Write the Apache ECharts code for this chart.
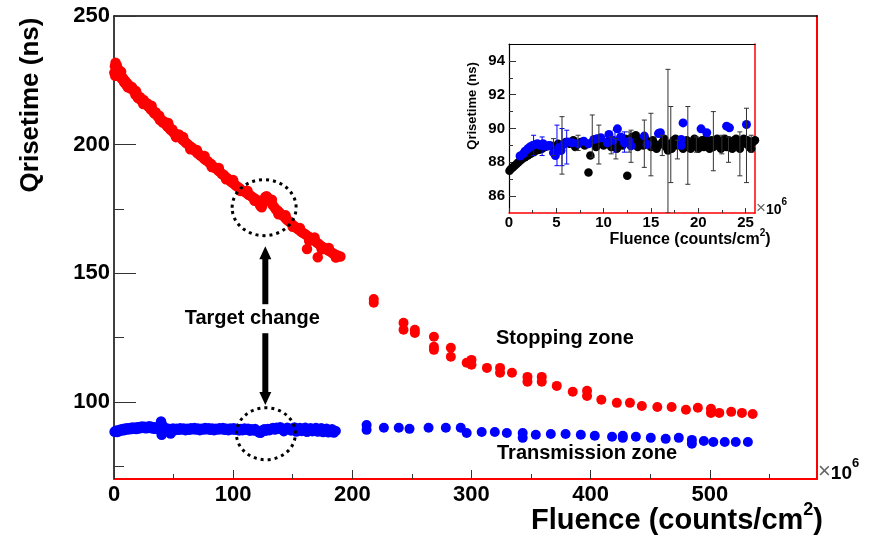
<!DOCTYPE html>
<html>
<head>
<meta charset="utf-8">
<script src="https://cdn.jsdelivr.net/npm/echarts@6/dist/echarts.min.js"></script>
<style>
  html, body { margin: 0; padding: 0; background: #fff; }
  #chart { width: 883px; height: 536px; }
</style>
</head>
<body>
<div id="chart"></div>
<script>
const FONT = '"Liberation Sans", Arial, Helvetica, sans-serif';

// Tick positions (fluence in units of 10^6 counts/cm^2, rise time in ns)
const mainXMajor = [0, 100, 200, 300, 400, 500];
const mainXMinor = [50, 150, 250, 350, 450, 550];
const mainYMajor = [100, 150, 200, 250];
const mainYMinor = [75, 125, 175, 225];
const insetXMajor = [0, 5, 10, 15, 20, 25];
const insetXMinor = [2.5, 7.5, 12.5, 17.5, 22.5];
const insetYMajor = [86, 88, 90, 92, 94];
const insetYMinor = [87, 89, 91, 93];

// Stopping zone, first target (dense scan)
const stoppingDense = [
  [0.3,228.0],[0.8,230.5],[1.3,231.8],[1.8,229.6],[2.4,230.8],[3.0,228.2],[3.6,227.5],[4.3,228.9],
  [5.0,226.4],[5.8,227.2],[6.6,225.6],[7.5,225.9],[8.4,224.2],[9.3,224.8],[10.2,223.4],[11.1,223.9],
  [12.0,222.6],[13.0,222.9],[14.0,221.8],[15.0,222.4],[16.0,221.5],[17.0,220.6],[18.0,219.4],[19.0,219.8],
  [20.0,218.2],[21.0,217.9],[22.0,218.4],[23.0,217.1],[24.0,216.8],[25.0,217.3],[26.0,216.2],[27.0,215.6],
  [28.0,216.0],[29.0,214.7],[30.0,214.9],[31.0,213.6],[32.0,213.9],[33.0,212.8],[34.0,212.1],[35.0,212.6],
  [36.0,211.4],[37.0,210.8],[38.0,211.2],[39.0,209.9],[40.0,209.5],[41.0,208.6],[42.0,209.0],[43.0,208.2],
  [44.0,207.5],[45.0,206.9],[46.0,207.3],[47.0,206.0],[48.0,205.6],[49.0,205.9],[50.0,204.7],[51.5,204.2],
  [53.0,203.6],[54.5,203.9],[56.0,202.8],[57.5,201.9],[59.0,201.4],[60.5,200.6],[62.0,200.1],[63.5,199.5],
  [65.0,199.0],[66.5,198.4],[68.0,197.6],[69.5,197.9],[71.0,196.5],[72.5,195.8],[74.0,195.4],[75.5,194.6],
  [77.0,194.0],[78.5,193.6],[80.0,192.9],[81.5,192.5],[83.0,191.6],[84.5,191.0],[86.0,190.7],[87.5,189.9],
  [89.0,189.4],[90.5,188.6],[92.0,188.3],[93.5,187.5],[95.0,186.9],[96.5,186.4],[98.0,185.6],[99.5,185.2],
  [101.0,184.6],[102.5,184.0],[104.0,183.5],[105.5,183.0],[107.0,182.4],[108.5,182.0],[110.0,181.6],[111.5,181.1],
  [113.0,180.5],[114.5,180.2],[116.0,179.6],[117.5,179.2],[119.0,178.8],[120.5,178.1],[122.0,177.0],[123.0,176.0],
  [124.0,175.6],[125.0,177.2],[126.0,178.8],[127.0,179.6],[128.0,179.9],[129.0,179.4],[130.0,178.6],[131.5,177.9],
  [133.0,176.6],[134.5,175.7],[136.0,174.8],[137.5,174.3],[139.0,173.5],[140.5,172.8],[142.0,172.4],[143.5,171.6],
  [145.0,170.9],[146.5,170.3],[148.0,169.8],[149.5,169.0],[151.0,168.4],[152.5,167.9],[154.0,167.3],[155.5,166.8],
  [157.0,166.2],[158.5,165.7],[160.0,165.3],[161.5,164.8],[162.0,159.4],[163.0,164.3],[164.5,163.9],[166.0,163.4],
  [167.5,163.0],[169.0,162.4],[170.5,161.8],[171.0,156.2],[172.0,161.3],[173.5,160.7],[175.0,160.2],[176.5,159.8],
  [178.0,159.4],[179.5,158.9],[181.0,158.6],[182.5,158.1],[184.0,157.7],[185.5,157.3],[187.0,157.0],[188.5,156.6],
  [190.0,156.5],
  [1.0,226.8],[6.0,228.3],[11.5,222.3],[18.5,220.8],[24.5,215.8],[31.5,215.1],[38.5,209.6],[45.5,208.4],
  [52.0,202.9],[58.0,203.0],[64.0,198.2],[70.0,196.6],[76.0,195.6],[82.0,191.3],[88.0,190.9],[94.0,186.5],
  [100.0,186.2],[106.0,182.0],[112.0,182.1],[118.0,178.2],[132.5,178.6],[138.0,172.9],[144.0,172.5],[150.0,168.1],
  [156.0,167.6],[163.8,162.6],[168.3,163.9],[174.3,159.3],[180.3,159.8],[186.2,156.1]
];

// Stopping zone, second target (sparse scan)
const stoppingSparse = [
  [218,140.0],[218,138.5],[243,130.7],[243,128.0],[252.5,128.0],[252.5,126.8],[268.5,125.3],[268.5,121.4],
  [268.5,120.2],[282.7,121.0],[282.7,117.5],[296,115.2],[300,116.3],[300,114.4],[313,113.2],[324,113.2],
  [324,111.3],[334,111.3],[347,109.7],[347,107.8],[359,109.7],[359,107.8],[371.6,106.2],[385,103.9],
  [397,104.3],[397,102.3],[409,100.8],[422,99.6],[433,99.6],[443,98.4],[456,98.0],[468,98.0],
  [480,96.9],[490,97.7],[501,97.3],[501,95.7],[508,95.7],[518,96.1],[527,95.7],[536,95.3]
];

// Transmission zone, first target (dense scan)
const transmissionDense = [
  [0.5,88.4],[1.5,88.8],[2.5,88.3],[3.5,89.0],[4.5,88.6],[5.5,89.2],[6.5,88.9],[7.5,89.4],[8.5,89.0],
  [9.5,89.6],[10.5,89.2],[11.5,89.7],[12.5,89.3],[13.5,89.8],[14.5,89.4],[15.5,90.0],[16.5,89.5],[17.5,89.9],
  [18.5,89.4],[19.5,90.1],[20.5,89.6],[21.5,90.2],[22.5,89.8],[23.5,90.4],[24.5,89.9],[25.5,90.3],[26.5,89.7],
  [27.5,90.2],[28.5,89.8],[29.5,90.5],[30.5,89.9],[31.5,90.3],[32.5,89.6],[33.5,90.1],[34.5,89.5],[35.5,90.0],
  [36.5,89.4],[37.5,89.9],[38.5,89.3],[39.5,92.4],[40.0,87.2],[40.5,91.0],[41.5,88.5],[42.5,89.8],[43.5,89.2],
  [44.5,89.6],[45.5,88.9],[46.5,89.4],[47.5,87.7],[48.5,89.1],[49.5,89.6],[51,89.0],[52.5,89.5],[54,89.1],
  [55.5,89.7],[57,89.2],[58.5,89.6],[60,89.0],[61.5,89.5],[63,89.1],[64.5,89.7],[66,89.3],[67.5,89.8],
  [69,89.2],[70.5,89.6],[72,89.0],[73.5,89.5],[75,89.2],[76.5,89.8],[78,89.3],[79.5,89.7],[81,89.1],
  [82.5,89.6],[84,89.0],[85.5,89.5],[87,89.2],[88.5,89.7],[90,89.3],[91.5,89.8],[93,89.1],[94.5,89.5],
  [96,89.0],[97.5,89.6],[99,89.2],[100.5,89.7],[102,89.1],[103.5,89.5],[105,88.9],[106.5,89.4],[108,89.0],
  [109.5,89.6],[111,89.1],[112.5,89.5],[114,88.8],[115.5,89.3],[117,88.9],[118.5,89.4],[120,88.7],[121.5,88.2],
  [123,88.0],[124.5,88.9],[126,89.3],[127.5,88.8],[129,89.4],[130.5,89.0],[132,89.5],[133.5,89.8],[135,89.2],
  [136.5,89.9],[138,89.5],[139.5,90.1],[141,89.6],[142.5,88.6],[144,89.3],[145.5,89.9],[147,89.4],[148.5,88.9],
  [150,89.6],[151.5,90.0],[153,88.5],[154.5,89.2],[156,89.8],[157.5,88.7],[159,89.4],[160.5,89.9],[162,88.4],
  [163.5,89.1],[165,89.7],[166.5,88.6],[168,89.3],[169.5,89.8],[171,88.5],[172.5,89.2],[174,89.7],[175.5,88.3],
  [177,89.0],[178.5,89.5],[180,88.2],[181.5,88.9],[183,89.3],[184.5,88.1],[186,88.7]
];

// Transmission zone, second target (sparse scan)
const transmissionSparse = [
  [212,91.0],[212,89.1],[226.5,89.9],[239,89.9],[248,89.5],[264,89.9],[278.5,89.9],[291,89.9],[296,87.9],
  [308.6,88.3],[319.6,88.3],[329.7,87.9],[343,87.9],[343,86.0],[354,87.2],[366.6,87.5],[379,87.5],[391.8,87.2],
  [403.5,86.8],[418,86.4],[427,86.8],[427,86.0],[438,86.4],[450.5,86.0],[463,85.6],[474,86.0],[485,85.2],
  [485,83.7],[495,84.8],[503,84.4],[512.6,84.4],[521.8,84.4],[532,84.4]
];

// Main panel error bars: [fluence, low, high]
const transmissionErrors = [[40.0, 86.4, 92.8], [47.5, 86.6, 89.2]];

// Inset: early fluence range, black and blue runs
const insetBlack = [
  [0.05,87.5],[0.2,87.6],[0.4,87.7],[0.6,87.8],[0.8,87.9],[1.0,88.0],[1.2,88.1],[1.4,88.2],[1.7,88.3],
  [2.0,88.4],[2.3,88.5],[2.6,88.6],[2.9,88.7],[3.2,88.75],[3.5,88.8],[3.8,88.9],[4.1,88.95],[4.4,89.0],
  [4.8,88.9],[5.2,89.1],[5.6,89.0],[6.0,89.2],[6.4,89.1],[6.8,89.3],[7.2,89.1],[7.6,89.2],[8.0,89.0],
  [8.4,87.4],[8.6,88.4],[8.8,89.2],[9.2,88.9],[9.6,89.1],[10.0,89.0],[10.4,89.2],[10.8,88.9],[11.2,89.1],
  [11.6,89.3],[12.0,89.0],[12.5,87.2],[12.6,89.2],[13.0,89.5],[13.4,89.6],[13.8,89.3],[14.2,89.0],[14.6,89.2],
  [15.0,88.9],[15.4,89.1],[15.8,89.0],[16.2,89.2],[16.6,88.9],[17.0,89.1],[17.4,89.3],[17.8,89.0],[18.2,89.2],
  [18.6,88.9],[19.0,89.1],[19.4,89.0],[19.8,89.2],[20.2,89.1],[20.6,88.9],[21.0,89.2],[21.4,89.3],[21.8,89.0],
  [22.2,89.1],[22.6,89.2],[23.0,88.9],[23.4,89.1],[23.8,89.3],[24.2,89.0],[24.6,89.2],[25.0,89.1],[25.4,88.9],
  [25.8,89.2],
  [13.2,89.1],[13.6,88.9],[14.4,89.4],[15.2,89.3],[15.6,88.8],[16.4,89.4],[16.8,88.7],[17.2,88.8],[17.6,89.4],
  [18.4,88.8],[18.8,89.3],[19.2,88.8],[19.6,89.4],[20.0,88.8],[20.4,89.3],[20.8,89.4],[21.2,88.8],[21.6,88.9],
  [22.0,89.4],[22.4,88.8],[22.8,89.4],[23.2,89.3],[23.6,88.8],[24.0,89.4],[24.4,88.8],[24.8,89.4],[25.2,89.3],
  [25.6,88.8],[26.0,89.3],[7.0,88.9],[9.4,89.3],[11.4,88.8],[12.3,89.4]
];
const insetBlue = [
  [1.17,88.37],[1.5,88.5],[1.7,88.66],[2.0,88.8],[2.2,88.9],[2.5,89.0],[2.77,89.06],[3.0,89.1],[3.3,89.0],
  [3.6,89.1],[3.83,88.95],[4.2,89.0],[4.7,88.57],[4.9,88.4],[5.25,88.86],[5.5,88.7],[5.78,89.06],[6.2,89.2],
  [6.67,89.16],[7.3,89.1],[7.9,89.25],[8.4,89.1],[8.97,89.35],[9.3,89.4],[9.7,89.45],[10.4,89.16],[10.56,89.65],
  [11.0,89.3],[11.46,89.98],[11.8,89.5],[12.2,89.16],[12.7,89.25],[12.9,88.97],[14.3,89.55],[14.6,89.06],
  [15.8,89.7],[16.0,89.75],[18.2,89.35],[18.2,89.0],[18.4,90.33],[20.3,89.98],[20.9,89.75],[23.0,90.14],
  [23.3,90.04],[25.1,90.24]
];
const insetBlackErrors = [
  [4.7,88.4,89.4],[5.6,87.3,90.7],[7.3,88.7,89.6],[8.8,88.3,90.8],[9.5,87.9,90.2],[10.8,88.5,89.5],
  [11.3,88.2,89.4],[12.7,88.6,89.8],[12.9,88.0,89.9],[14.3,87.7,90.5],[15.0,87.2,90.9],[16.2,88.4,89.6],
  [16.8,85.0,93.5],[17.1,86.8,91.3],[17.8,88.2,89.3],[18.9,86.7,91.3],[19.8,88.6,89.5],[21.6,87.5,91.0],
  [22.5,88.5,89.6],[23.2,88.0,89.5],[24.4,87.2,89.8],[25.1,86.8,91.2],[25.6,88.6,89.6]
];
const insetBlueErrors = [
  [2.6,88.4,89.6],[3.5,88.4,89.5],[5.07,87.8,90.2],[5.6,87.8,90.0],[6.1,87.9,89.9],[11.2,88.6,89.9],[12.2,88.6,89.8]
];

const RED = '#ff0000';
const BLUE = '#0000ff';

function valueAxis(gridIndex, position, min, max, ticks, tickLen, labelSize, labelMargin, lineStyle) {
  return {
    type: 'value', gridIndex: gridIndex, position: position, min: min, max: max,
    axisLine: lineStyle ? { show: true, onZero: false, lineStyle: lineStyle } : { show: false, onZero: false },
    axisTick: ticks ? { show: true, inside: true, length: tickLen, customValues: ticks,
                        lineStyle: { color: '#333', width: 1 } } : { show: false },
    axisLabel: (ticks && labelSize) ? { show: true, customValues: ticks, margin: labelMargin,
      fontFamily: FONT, fontWeight: 'bold', fontSize: labelSize, color: '#000' } : { show: false },
    splitLine: { show: false }
  };
}

function errorBars(data, xi, yi, color, cap) {
  return {
    type: 'custom', xAxisIndex: xi, yAxisIndex: yi, clip: true, silent: true, z: 3,
    data: data, encode: { x: 0, y: [1, 2] },
    renderItem: function (params, api) {
      const x = api.value(0);
      const lo = api.coord([x, api.value(1)]);
      const hi = api.coord([x, api.value(2)]);
      const st = { stroke: color, lineWidth: 1 };
      return { type: 'group', children: [
        { type: 'line', shape: { x1: lo[0], y1: lo[1], x2: hi[0], y2: hi[1] }, style: st },
        { type: 'line', shape: { x1: lo[0] - cap, y1: lo[1], x2: lo[0] + cap, y2: lo[1] }, style: st },
        { type: 'line', shape: { x1: hi[0] - cap, y1: hi[1], x2: hi[0] + cap, y2: hi[1] }, style: st }
      ]};
    }
  };
}

function dots(data, xi, yi, color, size, z) {
  return { type: 'scatter', xAxisIndex: xi, yAxisIndex: yi, data: data, symbol: 'circle',
           symbolSize: size, itemStyle: { color: color, opacity: 1 }, silent: true, z: z || 2 };
}

const chart = echarts.init(document.getElementById('chart'), null, { renderer: 'canvas' });

chart.setOption({
  animation: false,
  backgroundColor: '#fff',
  grid: [
    { left: 114, top: 16, width: 703, height: 463 },
    { left: 509, top: 44, width: 246, height: 169, show: true, backgroundColor: '#fff', borderWidth: 0, z: 5 }
  ],
  xAxis: [
    valueAxis(0, 'bottom', 0, 590, mainXMajor, 9, 22, 5, { color: RED, width: 2 }),
    valueAxis(0, 'bottom', 0, 590, mainXMinor, 5, 0, 0, null),
    valueAxis(0, 'top', 0, 590, null, 0, 0, 0, { color: '#000', width: 1.5 }),
    Object.assign(valueAxis(1, 'bottom', 0, 26, insetXMajor, 5, 15, 2, { color: RED, width: 1.5 }), { z: 6 }),
    Object.assign(valueAxis(1, 'bottom', 0, 26, insetXMinor, 3, 0, 0, null), { z: 6 }),
    Object.assign(valueAxis(1, 'top', 0, 26, null, 0, 0, 0, { color: '#000', width: 1.2 }), { z: 6 })
  ],
  yAxis: [
    valueAxis(0, 'left', 70, 250, mainYMajor, 22, 22, 4, { color: '#000', width: 1.5 }),
    valueAxis(0, 'left', 70, 250, mainYMinor, 10, 0, 0, null),
    valueAxis(0, 'right', 70, 250, null, 0, 0, 0, { color: RED, width: 2 }),
    Object.assign(valueAxis(1, 'left', 85, 95, insetYMajor, 7, 15, 4, { color: '#000', width: 1.2 }), { z: 6 }),
    Object.assign(valueAxis(1, 'left', 85, 95, insetYMinor, 4, 0, 0, null), { z: 6 }),
    Object.assign(valueAxis(1, 'right', 85, 95, null, 0, 0, 0, { color: RED, width: 1.5 }), { z: 6 })
  ],
  series: [
    dots(stoppingDense, 0, 0, RED, 10.5),
    dots(stoppingSparse, 0, 0, RED, 10),
    dots(transmissionDense, 0, 0, BLUE, 10.5),
    dots(transmissionSparse, 0, 0, BLUE, 10),
    errorBars(transmissionErrors, 0, 0, BLUE, 0),
    dots(insetBlack, 3, 3, '#000', 8.5, 6),
    dots(insetBlue, 3, 3, BLUE, 9, 7),
    Object.assign(errorBars(insetBlueErrors, 3, 3, BLUE, 2.5), { z: 7 }),
    Object.assign(errorBars(insetBlackErrors, 3, 3, '#333', 2.5), { z: 8 })
  ]
});

// Annotations anchored to data positions of the main panel
const targetChangeX = 127;
const stoppingRing = [126, 175.5];
const transmissionRing = [127.5, 87.6];
const arrowEnds = [160.5, 98.8];

function toPixel(pt) { return chart.convertToPixel({ xAxisIndex: 0, yAxisIndex: 0 }, pt); }

const ringA = toPixel(stoppingRing);
const ringB = toPixel(transmissionRing);
const arrowTop = toPixel([targetChangeX, arrowEnds[0]]);
const arrowBot = toPixel([targetChangeX, arrowEnds[1]]);
const ax = arrowTop[0];
const textY = arrowTop[1] + 72;
const dotted = { stroke: '#000', lineWidth: 3, lineDash: [3, 4], fill: null };
const bold = function (size) { return 'bold ' + size + 'px ' + FONT; };

chart.setOption({
  graphic: [
    { type: 'ellipse', shape: { cx: ringA[0], cy: ringA[1], rx: 32, ry: 28 }, style: dotted, z: 20 },
    { type: 'ellipse', shape: { cx: ringB[0], cy: ringB[1], rx: 29.5, ry: 26 }, style: dotted, z: 20 },
    // double arrow, split around its caption
    { type: 'rect', shape: { x: ax - 3, y: arrowTop[1] + 11, width: 6, height: textY - 14 - (arrowTop[1] + 11) }, style: { fill: '#000' }, z: 20 },
    { type: 'polygon', shape: { points: [[ax, arrowTop[1]], [ax - 6, arrowTop[1] + 13], [ax + 6, arrowTop[1] + 13]] }, style: { fill: '#000' }, z: 20 },
    { type: 'rect', shape: { x: ax - 3, y: textY + 15, width: 6, height: arrowBot[1] - 11 - (textY + 15) }, style: { fill: '#000' }, z: 20 },
    { type: 'polygon', shape: { points: [[ax, arrowBot[1]], [ax - 6, arrowBot[1] - 13], [ax + 6, arrowBot[1] - 13]] }, style: { fill: '#000' }, z: 20 },
    { type: 'text', x: ax - 13, y: textY, z: 21,
      style: { text: 'Target change', font: bold(20), fill: '#000', align: 'center', verticalAlign: 'middle', textAlign: 'center', textVerticalAlign: 'middle' } },
    { type: 'text', x: 496, y: 338, z: 21,
      style: { text: 'Stopping zone', font: bold(20), fill: '#000', align: 'left', verticalAlign: 'middle', textAlign: 'left', textVerticalAlign: 'middle' } },
    { type: 'text', x: 497, y: 453, z: 21,
      style: { text: 'Transmission zone', font: bold(20), fill: '#000', align: 'left', verticalAlign: 'middle', textAlign: 'left', textVerticalAlign: 'middle' } },
    // axis titles
    { type: 'text', x: 31, y: 105, rotation: Math.PI / 2, z: 21,
      style: { text: 'Qrisetime (ns)', font: bold(26), fill: '#000', align: 'center', verticalAlign: 'middle', textAlign: 'center', textVerticalAlign: 'middle' } },
    { type: 'text', x: 823, y: 518, z: 21,
      style: { text: '{b|Fluence (counts/cm}{s|2}{b|)}', align: 'right', verticalAlign: 'middle', textAlign: 'right', textVerticalAlign: 'middle',
        rich: { b: { font: bold(29), fill: '#000', color: '#000', lineHeight: 34, verticalAlign: 'bottom' },
                s: { font: bold(18), fill: '#000', color: '#000', lineHeight: 34, verticalAlign: 'top' } } } },
    { type: 'text', x: 818, y: 470, z: 21,
      style: { text: '{g|×}{b|10}{s|6}', align: 'left', verticalAlign: 'middle', textAlign: 'left', textVerticalAlign: 'middle',
        rich: { g: { font: '22px ' + FONT, fill: '#666', color: '#666', lineHeight: 26, verticalAlign: 'bottom' },
                b: { font: bold(19), fill: '#000', color: '#000', lineHeight: 26, verticalAlign: 'bottom' },
                s: { font: bold(13), fill: '#000', color: '#000', lineHeight: 26, verticalAlign: 'top' } } } },
    { type: 'text', x: 472, y: 106, rotation: Math.PI / 2, z: 21,
      style: { text: 'Qrisetime (ns)', font: bold(13), fill: '#000', align: 'center', verticalAlign: 'middle', textAlign: 'center', textVerticalAlign: 'middle' } },
    { type: 'text', x: 690, y: 238, z: 21,
      style: { text: '{b|Fluence (counts/cm}{s|2}{b|)}', align: 'center', verticalAlign: 'middle', textAlign: 'center', textVerticalAlign: 'middle',
        rich: { b: { font: bold(16), fill: '#000', color: '#000', lineHeight: 20, verticalAlign: 'bottom' },
                s: { font: bold(10), fill: '#000', color: '#000', lineHeight: 20, verticalAlign: 'top' } } } },
    { type: 'text', x: 756, y: 207, z: 21,
      style: { text: '{g|×}{b|10}{s|6}', align: 'left', verticalAlign: 'middle', textAlign: 'left', textVerticalAlign: 'middle',
        rich: { g: { font: '17px ' + FONT, fill: '#666', color: '#666', lineHeight: 20, verticalAlign: 'bottom' },
                b: { font: bold(14), fill: '#000', color: '#000', lineHeight: 20, verticalAlign: 'bottom' },
                s: { font: bold(10), fill: '#000', color: '#000', lineHeight: 20, verticalAlign: 'top' } } } }
  ]
});
</script>
</body>
</html>
